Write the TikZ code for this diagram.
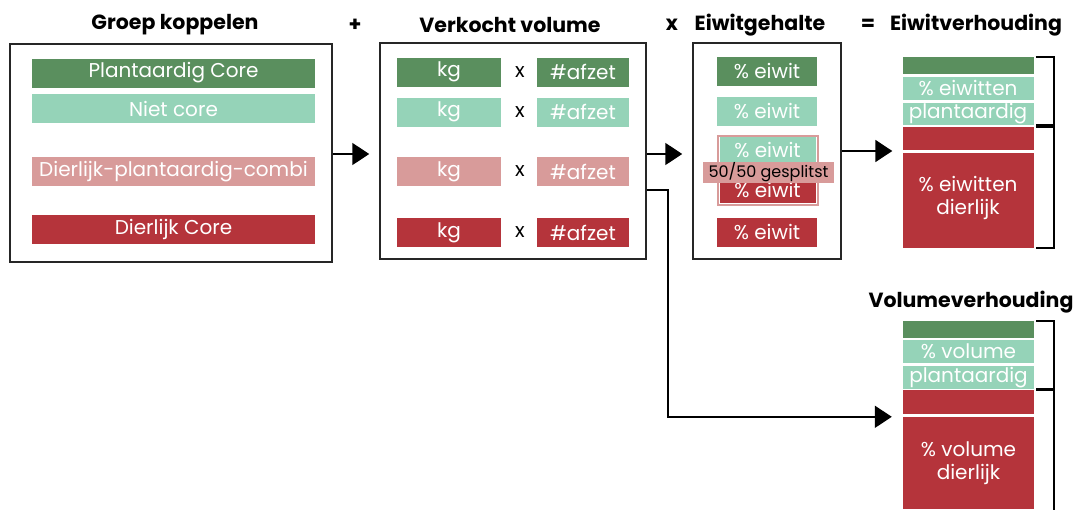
\documentclass[tikz,border=0pt]{standalone}
\usepackage{fontspec}
\setmainfont{Poppins}
\usetikzlibrary{arrows.meta}
\definecolor{plantgreen}{HTML}{5A8F5E}
\definecolor{nietcore}{HTML}{95D3B8}
\definecolor{combirose}{HTML}{D89B9A}
\definecolor{dierred}{HTML}{B5343B}
\tikzset{
  titel/.style={font=\fontsize{20.5}{22}\selectfont\bfseries, inner sep=0pt},
  kader/.style={draw=black!85, line width=1.5pt, inner sep=0pt},
  balk/.style={inner sep=0pt, minimum height=29pt, text=white, font=\fontsize{20}{22}\selectfont},
  stapel/.style={balk, minimum width=131pt, align=center},
  maalteken/.style={inner sep=0pt, font=\fontsize{20}{22}\selectfont},
  pijl/.style={line width=1.8pt, -{Triangle[length=17pt,width=22pt]}},
  haak/.style={line width=1.8pt},
}
\begin{document}
\begin{tikzpicture}[x=1pt, y=-1pt]
    \useasboundingbox (0,0) rectangle (1074,509);

    % Titels
    \node[titel] (tgroep) at (175,25) {Groep koppelen};
    \node[titel] (plus) at (355,25) {+};
    \node[titel] (tvolume) at (510,25) {Verkocht volume};
    \node[titel] (maal) at (672,25) {x};
    \node[titel] (teiwit) at (760,25) {Eiwitgehalte};
    \node[titel] (is) at (868,25) {=};
    \node[titel] (teiwitverh) at (976,25) {Eiwitverhouding};
    \node[titel] (tvolverh) at (971,302) {Volumeverhouding};

    % Groep koppelen
    \node[kader, minimum width=322pt, minimum height=218pt] (groep) at (171,153) {};
    \node[balk, fill=plantgreen, minimum width=283pt] (g1) at (173.5,73) {Plantaardig Core};
    \node[balk, fill=nietcore, minimum width=283pt] (g2) at (173.5,108.5) {Niet core};
    \node[balk, fill=combirose, minimum width=283pt] (g3) at (173.5,171.5) {Dierlijk-plantaardig-combi};
    \node[balk, fill=dierred, minimum width=283pt] (g4) at (173.5,229.5) {Dierlijk Core};

    % Verkocht volume
    \node[kader, minimum width=266pt, minimum height=216pt] (volume) at (513,151) {};
    \node[balk, fill=plantgreen, minimum width=104pt] (kg1) at (449,72) {kg};
    \node[maalteken] (x1) at (520,72) {x};
    \node[balk, fill=plantgreen, minimum width=92pt] (af1) at (583,72) {\#afzet};
    \node[balk, fill=nietcore, minimum width=104pt] (kg2) at (449,112) {kg};
    \node[maalteken] (x2) at (520,112) {x};
    \node[balk, fill=nietcore, minimum width=92pt] (af2) at (583,112) {\#afzet};
    \node[balk, fill=combirose, minimum width=104pt] (kg3) at (449,171.5) {kg};
    \node[maalteken] (x3) at (520,171.5) {x};
    \node[balk, fill=combirose, minimum width=92pt] (af3) at (583,171.5) {\#afzet};
    \node[balk, fill=dierred, minimum width=104pt] (kg4) at (449,232.5) {kg};
    \node[maalteken] (x4) at (520,232.5) {x};
    \node[balk, fill=dierred, minimum width=92pt] (af4) at (583,232.5) {\#afzet};

    % Eiwitgehalte
    \node[kader, minimum width=148pt, minimum height=216pt] (eiwit) at (767,151) {};
    \node[balk, fill=plantgreen, minimum width=100pt] (e1) at (767,71.5) {\% eiwit};
    \node[balk, fill=nietcore, minimum width=100pt] (e2) at (767,111.5) {\% eiwit};
    \node[draw=combirose, line width=2pt, inner sep=0pt, minimum width=100pt, minimum height=69pt] (esplit) at (767.5,170) {};
    \node[balk, fill=nietcore, minimum width=96pt, minimum height=26pt] (e3a) at (767.5,150) {\% eiwit};
    \node[balk, fill=dierred, minimum width=96pt, minimum height=26pt] (e3b) at (767.5,190) {\% eiwit};
    \node[fill=combirose, inner sep=0pt, minimum width=131pt, minimum height=21pt, font=\fontsize{16}{18}\selectfont] (gesplitst) at (768.5,172.5) {50/50 gesplitst};
    \node[balk, fill=dierred, minimum width=100pt] (e4) at (767,232.5) {\% eiwit};

    % Eiwitverhouding
    \node[stapel, fill=plantgreen, minimum height=17pt] (eg) at (968,65.5) {};
    \node[stapel, fill=nietcore, minimum height=23pt] (et1) at (968,88.5) {\% eiwitten};
    \node[stapel, fill=nietcore, minimum height=22pt] (et2) at (968,114) {plantaardig};
    \node[stapel, fill=dierred, minimum height=23pt] (er1) at (968,138.5) {};
    \node[stapel, fill=dierred, minimum height=95pt, text depth=10pt] (er2) at (968,200.5) {\% eiwitten\\[1pt]dierlijk};
    \draw[haak] ([xshift=2pt]eg.north east) -- ++(18,0) |- ([xshift=2pt]et2.south east);
    \draw[haak] ([xshift=2pt]er1.north east) -- ++(18,0) |- ([xshift=2pt]er2.south east);

    % Volumeverhouding
    \node[stapel, fill=plantgreen, minimum height=17pt] (vg) at (968.5,329.5) {};
    \node[stapel, fill=nietcore, minimum height=23pt] (vt1) at (968.5,351.5) {\% volume};
    \node[stapel, fill=nietcore, minimum height=23pt] (vt2) at (968.5,377.5) {plantaardig};
    \node[stapel, fill=dierred, minimum height=24pt] (vr1) at (968.5,402) {};
    \node[stapel, fill=dierred, minimum height=92pt] (vr2) at (968.5,463) {\% volume\\[1pt]dierlijk};
    \draw[haak] ([xshift=2pt]vg.north east) -- ++(18,0) |- ([xshift=2pt]vt2.south east);
    \draw[haak] ([xshift=2pt]vr1.north east) -- ++(18,0) -- ++(0,130);

    % Pijlen
    \draw[pijl] ([yshift=-1pt]groep.east) -- ([xshift=-10pt,yshift=-1pt]groep.east -| volume.west);
    \draw[pijl] ([yshift=-3pt]volume.east) -- ([xshift=-10pt,yshift=-3pt]volume.east -| eiwit.west);
    \draw[pijl] (eiwit.east) -- ([xshift=-10pt]eiwit.east -| er1.west);
    \draw[pijl] ([yshift=-39pt]volume.east) -- ++(21,0) |- ([xshift=-11pt]vr2.north west);
\end{tikzpicture}
\end{document}
